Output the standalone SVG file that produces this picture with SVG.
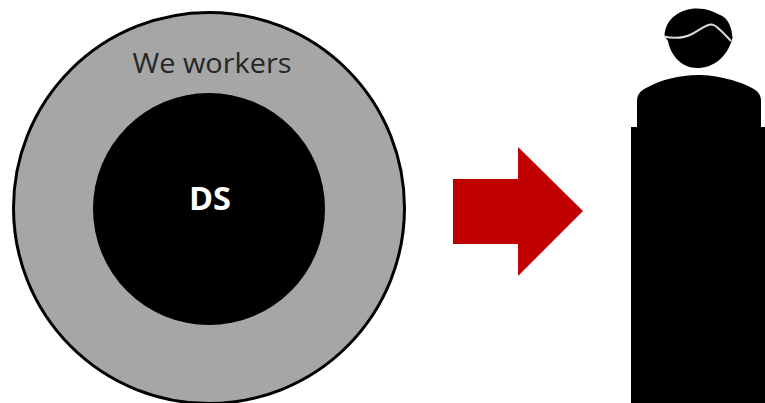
<svg xmlns="http://www.w3.org/2000/svg" width="765" height="403" viewBox="0 0 765 403">
<style>
.t{font-family:"Open Sans","Noto Sans","Liberation Sans",sans-serif;text-anchor:middle}
.k{fill:#000}
</style>
<rect width="765" height="403" fill="#fff"/>
<g id="outer"><circle cx="209" cy="208" r="195.500" fill="#a6a6a6" stroke="#000" stroke-width="3"/>
<text class="t" x="212" y="73" font-size="28" textLength="159" lengthAdjust="spacingAndGlyphs" fill="#262626">We workers</text></g>
<g id="ds"><circle cx="209" cy="209" r="116" class="k"/>
<text class="t" x="210" y="210" font-size="33" font-weight="700" textLength="42" lengthAdjust="spacingAndGlyphs" fill="#fff">DS</text></g>
<g id="arrow"><polygon points="453,179 518,179 518,147 583,211 518,276 518,244 453,244" fill="#c00000"/></g>
<g id="person">
<path class="k" d="M664.500,36C665,19 680,8.500 697,8.500C707,8.500 714,12 719,14.500C727,17 732,26 732.500,38C727,58 713,68 697,68C683,68 671,57 668,41Z"/>
<path d="M664,36.500C675,39 684,38 692,34C700,30 706,24 712,24.500C717,25 724,34 731,41" fill="none" stroke="#dcdcdc" stroke-width="2"/>
<path class="k" d="M637,128V101C637,95 640,91 646,88C660,80 680,75 698,75C716,75 740,81 752,88C758,91 761,95 761,101V128Z"/>
<rect class="k" x="631" y="127" width="134" height="276"/>
</g>
</svg>
